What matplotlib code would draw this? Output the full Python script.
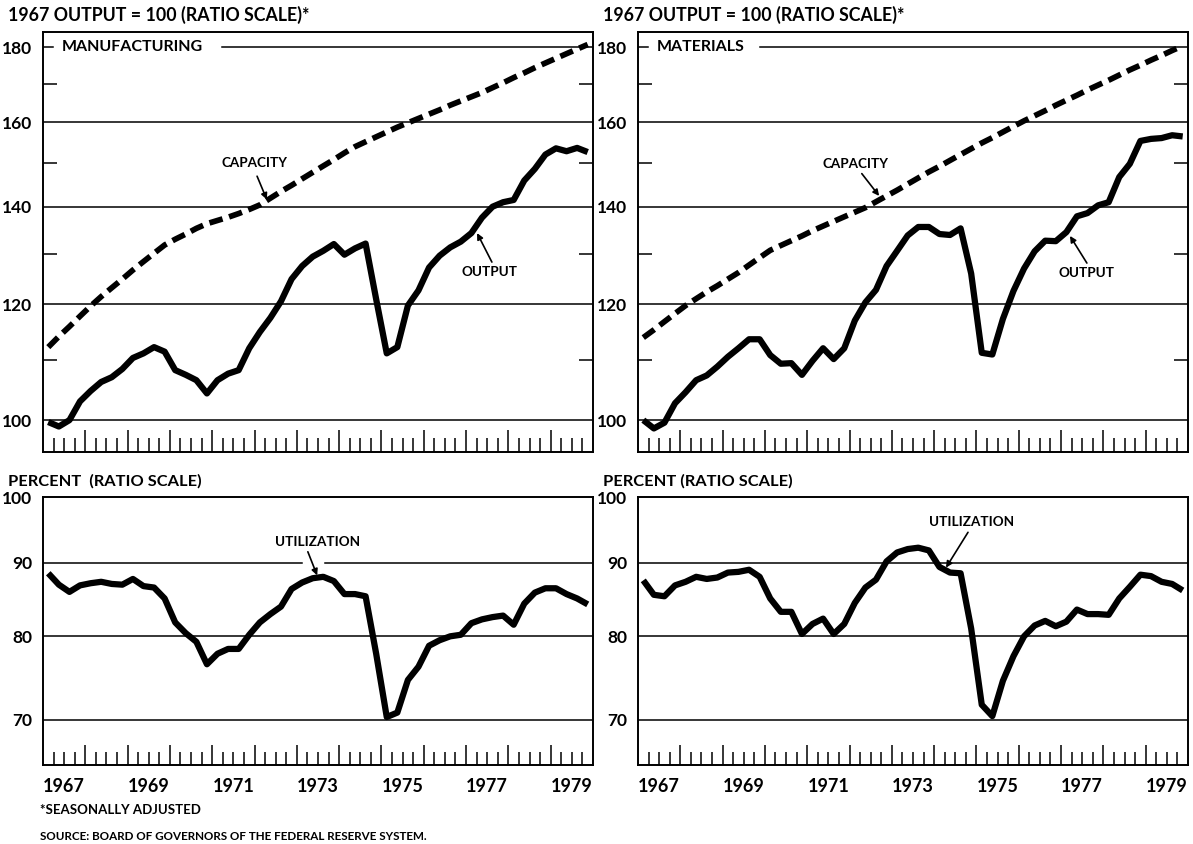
import matplotlib
matplotlib.use("Agg")
import matplotlib.pyplot as plt
from matplotlib.ticker import FixedLocator, FixedFormatter, NullFormatter, NullLocator

plt.rcParams.update({
    "font.family": ["Lato", "DejaVu Sans"],
    "font.weight": "bold",
    "axes.linewidth": 1.4,
})

W, H = 1193, 844

# quarterly observations, 1967Q1 .. 1979Q4
years = list(range(1967, 1980))
quarters = [(y, q) for y in years for q in (1, 2, 3, 4)]
year_labels = ["1967", "1969", "1971", "1973", "1975", "1977", "1979"]

# index, 1967 output = 100
mfg_output = [
    99.7, 99.0, 100.0, 103.0, 104.7, 106.2, 107.0, 108.4, 110.3, 111.1,
    112.2, 111.4, 108.2, 107.4, 106.5, 104.3, 106.5, 107.6, 108.2, 112.0,
    114.9, 117.5, 120.6, 124.9, 127.5, 129.4, 130.6, 132.0, 129.8, 131.1,
    132.1, 121.0, 111.1, 112.2, 119.8, 122.7, 127.2, 129.6, 131.3, 132.5,
    134.3, 137.6, 140.0, 141.0, 141.5, 145.9, 148.6, 152.0, 153.5, 152.8,
    153.6, 152.6,
]
mfg_capacity = [
    112.2, 114.1, 115.9, 117.8, 119.7, 121.5, 123.2, 124.9, 126.7, 128.4,
    130.1, 131.8, 133.0, 134.1, 135.3, 136.3, 137.0, 137.7, 138.5, 139.4,
    140.4, 141.9, 143.4, 144.8, 146.3, 147.8, 149.3, 150.8, 152.4, 153.9,
    155.1, 156.3, 157.5, 158.7, 159.8, 160.9, 162.0, 163.1, 164.3, 165.4,
    166.5, 167.6, 168.9, 170.2, 171.6, 172.9, 174.3, 175.6, 176.9, 178.2,
    179.5, 180.8,
]
mat_output = [
    100.0, 98.7, 99.6, 102.7, 104.5, 106.5, 107.3, 108.8, 110.5, 112.0,
    113.6, 113.6, 110.8, 109.3, 109.4, 107.4, 109.8, 112.0, 110.1, 112.0,
    117.0, 120.4, 122.8, 127.5, 130.6, 133.8, 135.6, 135.6, 134.1, 133.9,
    135.3, 126.0, 111.2, 110.9, 117.3, 122.6, 127.0, 130.5, 132.7, 132.6,
    134.5, 137.9, 138.6, 140.3, 141.0, 146.7, 149.8, 155.3, 155.8, 156.0,
    156.7, 156.4,
]
mat_capacity = [
    113.9, 115.3, 116.8, 118.3, 119.8, 121.1, 122.4, 123.6, 124.9, 126.2,
    127.7, 129.2, 130.7, 131.7, 132.7, 133.7, 134.8, 135.8, 136.8, 137.8,
    138.8, 139.8, 141.1, 142.4, 143.7, 145.1, 146.5, 147.9, 149.2, 150.6,
    152.0, 153.4, 154.8, 156.1, 157.5, 158.9, 160.3, 161.6, 162.9, 164.3,
    165.6, 166.9, 168.3, 169.6, 170.9, 172.3, 173.7, 175.0, 176.4, 177.7,
    179.1, 180.4,
]

# utilization, percent
mfg_util = [
    88.5, 86.9, 85.9, 86.8, 87.1, 87.3, 87.0, 86.9, 87.7, 86.7,
    86.5, 85.0, 81.8, 80.4, 79.3, 76.5, 77.8, 78.4, 78.4, 80.2,
    81.8, 82.9, 83.9, 86.3, 87.2, 87.8, 88.0, 87.4, 85.6, 85.6,
    85.3, 77.8, 70.3, 70.8, 74.6, 76.2, 78.8, 79.5, 80.0, 80.2,
    81.7, 82.2, 82.5, 82.7, 81.5, 84.3, 85.8, 86.4, 86.4, 85.6,
    85.0, 84.2,
]
mat_util = [
    87.5, 85.5, 85.3, 86.8, 87.3, 88.0, 87.7, 87.9, 88.6, 88.7,
    89.0, 88.0, 85.0, 83.2, 83.2, 80.3, 81.6, 82.3, 80.3, 81.6,
    84.4, 86.5, 87.6, 90.2, 91.5, 92.0, 92.2, 91.8, 89.4, 88.6,
    88.5, 81.0, 71.7, 70.4, 74.5, 77.5, 80.0, 81.4, 82.0, 81.3,
    81.9, 83.5, 82.9, 82.9, 82.8, 85.0, 86.6, 88.3, 88.1, 87.3,
    87.0, 86.1,
]

x = [y + (q - 0.5) / 4 for y, q in quarters]


def px_box(x0, y0, x1, y1):
    return [x0 / W, 1 - y1 / H, (x1 - x0) / W, (y1 - y0) / H]


def setup_axis(ax, ylim, major, minor, year_len, q_len, show_years):
    ax.set_yscale("log")
    ax.set_xlim(1967, 1980)
    ax.set_ylim(*ylim)
    ax.yaxis.set_major_locator(FixedLocator(major))
    ax.yaxis.set_major_formatter(FixedFormatter([str(v) for v in major]))
    if minor:
        ax.yaxis.set_minor_locator(FixedLocator(minor))
    else:
        ax.yaxis.set_minor_locator(NullLocator())
    ax.yaxis.set_minor_formatter(NullFormatter())
    ax.tick_params(axis="y", which="major", length=0, pad=8, labelsize=12.5)
    ax.tick_params(axis="y", which="minor", direction="in", length=10,
                   width=1.1, left=True, right=True)

    ax.xaxis.set_major_locator(FixedLocator(years[1:]))
    ax.xaxis.set_minor_locator(FixedLocator([y + f for y in years for f in (0.25, 0.5, 0.75)]))
    ax.tick_params(axis="x", which="major", direction="in", length=year_len,
                   width=1.1, labelbottom=False)
    ax.tick_params(axis="x", which="minor", direction="in", length=q_len,
                   width=1.1)
    for s in ax.spines.values():
        s.set_linewidth(1.4)

    if show_years:
        sec = ax.secondary_xaxis("bottom")
        sec.set_xticks([int(v) + 0.5 for v in year_labels], year_labels)
        sec.tick_params(length=0, pad=9, labelsize=13)
        sec.spines["bottom"].set_visible(False)


def gridline(ax, v, xmin=0, xmax=1):
    ax.axhline(v, xmin=xmin, xmax=xmax, color="black", lw=1.1, zorder=1)


fig = plt.figure(figsize=(W / 100, H / 100), dpi=100)

ax_tl = fig.add_axes(px_box(43, 32, 593, 452))
ax_tr = fig.add_axes(px_box(638, 32, 1188, 452))
ax_bl = fig.add_axes(px_box(43, 497, 593, 765))
ax_br = fig.add_axes(px_box(638, 497, 1188, 765))

top_major = [100, 120, 140, 160, 180]
top_minor = [110, 130, 150, 170]
bot_major = [70, 80, 90, 100]

line_kw = dict(color="black", lw=4.5, solid_joinstyle="round", solid_capstyle="butt", zorder=3)
dash_kw = dict(color="black", lw=4.1, linestyle=(0, (2.4, 1.2)), dash_capstyle="butt", zorder=3)
arrow_kw = dict(arrowstyle="-|>", color="black", lw=1.2, mutation_scale=9, shrinkA=0, shrinkB=0)
label_kw = dict(fontsize=9.7, ha="center", va="center")

# --- top panels: output and capacity ---
for ax, out, cap, name, gap in [
    (ax_tl, mfg_output, mfg_capacity, "MANUFACTURING", 0.325),
    (ax_tr, mat_output, mat_capacity, "MATERIALS", 0.222),
]:
    setup_axis(ax, (95.1, 184.4), top_major, top_minor, 15.8, 10, False)
    for v in (100, 120, 140, 160):
        gridline(ax, v)
    gridline(ax, 180, 0, 0.018)
    gridline(ax, 180, gap, 1)
    ax.plot(x, cap, **dash_kw)
    ax.plot(x, out, **line_kw)
    ax.text(0.034, 180, name, transform=ax.get_yaxis_transform(),
            fontsize=11.5, ha="left", va="center")

ax_tl.text(1972.01, 149.9, "CAPACITY", **label_kw)
ax_tl.annotate("", xy=(1972.29, 141.6), xytext=(1972.06, 146.9), arrowprops=arrow_kw)
ax_tl.text(1977.56, 126.3, "OUTPUT", **label_kw)
ax_tl.annotate("", xy=(1977.26, 134.3), xytext=(1977.61, 128.3), arrowprops=arrow_kw)

ax_tr.text(1972.15, 149.7, "CAPACITY", **label_kw)
ax_tr.annotate("", xy=(1972.70, 142.4), xytext=(1972.29, 147.5), arrowprops=arrow_kw)
ax_tr.text(1977.59, 126.1, "OUTPUT", **label_kw)
ax_tr.annotate("", xy=(1977.21, 133.7), xytext=(1977.61, 128.1), arrowprops=arrow_kw)

# --- bottom panels: utilization ---
for ax, util in [(ax_bl, mfg_util), (ax_br, mat_util)]:
    setup_axis(ax, (65.1, 100), bot_major, None, 14.4, 9.4, True)
    gridline(ax, 70)
    gridline(ax, 80)
    ax.plot(x, util, **line_kw)

gridline(ax_bl, 90, 0, 0.471)
gridline(ax_bl, 90, 0.513, 1)
gridline(ax_br, 90)

ax_bl.text(1973.50, 93.1, "UTILIZATION", **label_kw)
ax_bl.annotate("", xy=(1973.48, 88.2), xytext=(1973.26, 91.6), arrowprops=arrow_kw)
ax_br.text(1974.89, 96.1, "UTILIZATION", **label_kw)
ax_br.annotate("", xy=(1974.28, 89.3), xytext=(1974.80, 94.5), arrowprops=arrow_kw)

# --- headers and notes ---
def fig_text(px, py, s, **kw):
    fig.text(px / W, 1 - py / H, s, ha="left", va="center", **kw)


fig_text(8, 15, "1967 OUTPUT = 100 (RATIO SCALE)*", fontsize=12.8)
fig_text(603, 15, "1967 OUTPUT = 100 (RATIO SCALE)*", fontsize=12.8)
fig_text(8, 481, "PERCENT  (RATIO SCALE)", fontsize=11.8)
fig_text(603, 481, "PERCENT (RATIO SCALE)", fontsize=11.8)
fig_text(40, 810, "*SEASONALLY ADJUSTED", fontsize=9.5)
fig_text(40, 837, "SOURCE: BOARD OF GOVERNORS OF THE FEDERAL RESERVE SYSTEM.", fontsize=8.4)

fig.savefig("out.png", dpi=100)
